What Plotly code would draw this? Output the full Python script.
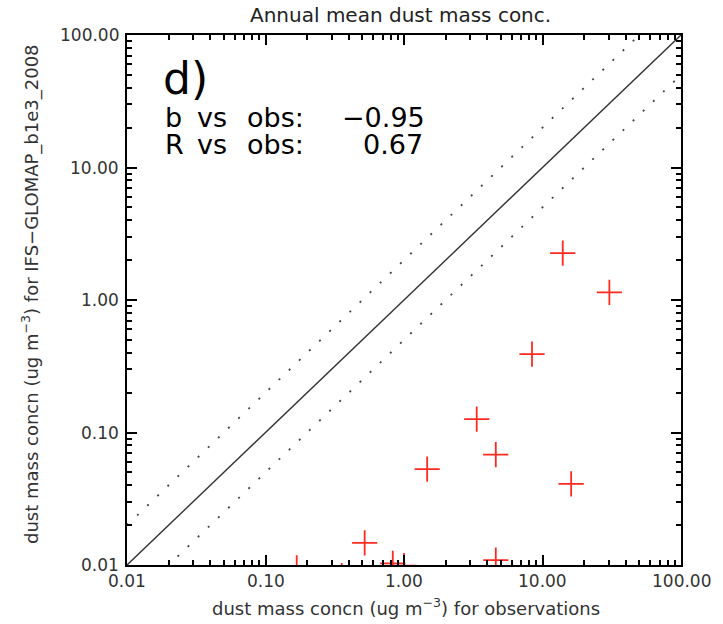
import math
import plotly.graph_objects as go

# ---- data ----
obs_conc = [14.0, 30.4, 8.4, 3.35, 4.6, 1.47, 16.1, 0.52, 4.6, 0.83, 1.0, 0.168, 0.355]
model_conc = [2.26, 1.14, 0.39, 0.126, 0.068, 0.053, 0.041, 0.0147, 0.0109, 0.0103, 0.0099, 0.0095, 0.0083]

line_x = [0.01, 100.0]
one_to_one = [0.01, 100.0]
upper_factor = 2.0
lower_factor = 0.5
upper_line = [v * upper_factor for v in line_x]
lower_line = [v * lower_factor for v in line_x]

major_ticks = [0.01, 0.1, 1.0, 10.0, 100.0]
major_text = ["0.01", "0.10", "1.00", "10.00", "100.00"]
minor_ticks = [d * k for d in [0.01, 0.1, 1.0, 10.0] for k in range(2, 10)]

panel_label = "d)"
stat_b = "\u22120.95"
stat_r = "0.67"

# ---- layout geometry (pixels) ----
W, H = 723, 624
L, R, T, B = 127, 42, 35, 59
PW, PH = W - L - R, H - T - B


def px(x):
    return (x - L) / PW


def py(y):
    return (H - B - y) / PH


FONT = "DejaVu Sans"

fig = go.Figure()
fig.add_trace(go.Scatter(x=line_x, y=one_to_one, mode="lines",
                         line=dict(color="#333333", width=1.4), showlegend=False, hoverinfo="skip"))
fig.add_trace(go.Scatter(x=line_x, y=upper_line, mode="lines",
                         line=dict(color="#444444", width=1.8, dash="2px,12px"), showlegend=False, hoverinfo="skip"))
fig.add_trace(go.Scatter(x=line_x, y=lower_line, mode="lines",
                         line=dict(color="#444444", width=1.8, dash="2px,12px"), showlegend=False, hoverinfo="skip"))
fig.add_trace(go.Scatter(x=obs_conc, y=model_conc, mode="markers", cliponaxis=True,
                         marker=dict(symbol="cross-thin", size=18, color="#ff2a1f",
                                     line=dict(width=1.8, color="#ff2a1f")),
                         showlegend=False))

axis_style = dict(
    type="log", range=[-2, 2], showgrid=False, zeroline=False,
    showline=True, linecolor="#000000", linewidth=1.5, mirror="ticks",
    ticks="inside", ticklen=10, tickwidth=2, tickcolor="#000000",
    tickmode="array", tickvals=major_ticks, showticklabels=False,
    minor=dict(ticks="inside", ticklen=5, tickwidth=2, tickcolor="#000000",
               tickmode="array", tickvals=minor_ticks, showgrid=False),
)

fig.update_layout(xaxis=dict(**axis_style), yaxis=dict(**axis_style))

ann = []
# tick labels placed on the axes' own log scale
for v, t in zip(major_ticks, major_text):
    ann.append(dict(text=t, x=math.log10(v), xref="x", y=py(581), yref="paper",
                    xanchor="center", yanchor="middle", showarrow=False,
                    font=dict(family=FONT, size=17, color="#333333")))
    ann.append(dict(text=t, y=math.log10(v), yref="y", x=px(121), xref="paper",
                    xanchor="right", yanchor="middle", showarrow=False,
                    font=dict(family=FONT, size=17, color="#333333")))

ann.append(dict(text="Annual mean dust mass conc.", x=px(400), y=py(15), xref="paper", yref="paper",
                xanchor="center", yanchor="middle", showarrow=False,
                font=dict(family=FONT, size=20, color="#222222")))
ann.append(dict(text="dust mass concn (ug m<sup>\u22123</sup>) for observations", x=px(406), y=py(607),
                xref="paper", yref="paper", xanchor="center", yanchor="middle", showarrow=False,
                font=dict(family=FONT, size=18, color="#333333")))
ann.append(dict(text="dust mass concn (ug m<sup>\u22123</sup>) for IFS\u2212GLOMAP_b1e3_2008", x=px(30), y=py(294),
                xref="paper", yref="paper", xanchor="center", yanchor="middle", showarrow=False, textangle=-90,
                font=dict(family=FONT, size=18, color="#333333")))
ann.append(dict(text=panel_label, x=px(161), y=py(78), xref="paper", yref="paper",
                xanchor="left", yanchor="middle", showarrow=False,
                font=dict(family=FONT, size=44, color="black")))
for yy, first, num, numx in [(118, "b", stat_b, 340), (145, "R", stat_r, 361)]:
    for word, wx in [(first, 163), ("vs", 195), ("obs:", 245), (num, numx)]:
        ann.append(dict(text=word, x=px(wx), y=py(yy), xref="paper", yref="paper",
                        xanchor="left", yanchor="middle", showarrow=False,
                        font=dict(family=FONT, size=27, color="black")))

fig.update_layout(width=W, height=H, margin=dict(l=L, r=R, t=T, b=B),
                  paper_bgcolor="white", plot_bgcolor="white", annotations=ann)

fig.write_html("out.html")
